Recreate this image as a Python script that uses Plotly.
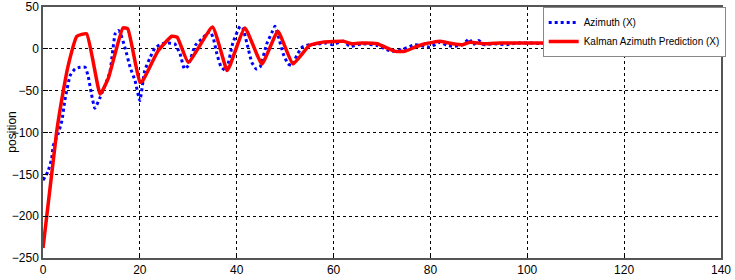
import plotly.graph_objects as go

# Measured azimuth (blue dotted)
az_t = [0, 1, 1.8, 2.1, 3.1, 3.9, 4.5, 5.6, 6.6, 7.6, 8.7, 9.3, 10, 10.7, 11.8, 13.8, 14.9, 15.5, 15.9,
        16.9, 18, 19, 20, 21, 22, 23.1, 24.6, 25.8, 27.2, 28.3, 29.2, 30, 31.4, 33, 34.5, 35.2, 35.9,
        36.8, 37.8, 39.2, 40.7, 41.3, 42.3, 43.1, 44, 44.8, 46.2, 47.3, 47.9, 48.5, 49.6, 50.6, 51.4,
        52.4, 53.5, 55.1, 57.2, 58.6, 59.7, 62, 63.4, 66, 69, 71, 72, 74.1, 76.8, 79.9, 82, 83.4,
        84.7, 86.7, 88, 88.8, 90, 91, 93, 95.8, 97.9, 100, 105, 110, 115, 120]
az_v = [-157, -147, -131, -116, -102, -86, -62, -32, -24, -22, -22, -32, -54, -71, -58, -28, 18, 22, 20,
        2, -22, -38, -62, -26, -12, 1, 6, 7, 6, -6, -24, -20, 4, 13, 21, 12, -6,
        -22, -26, 7, 27, 24, 2, -16, -24, -22, 6, 20, 27, 17, -6, -18, -20,
        -8, 2, 5, 6, 7, 5, 9, 3, 6, 4, -1, -3, -1, 5, 2, 8, 4,
        3, 5, 12, 5, 10, 5, 6, 5, 7, 7, 6, 7, 6, 7]

# Kalman prediction (red solid)
kp_t = [0, 2.8, 4.2, 5.2, 7, 9, 11.8, 13.5, 16.5, 17.5, 20, 20.6, 23.8, 26.6, 27.7, 30, 35, 38,
        38.6, 41.7, 45.2, 48.5, 51.6, 55, 57.8, 62, 63.8, 66, 69, 72.7, 74.7, 76.8, 78.9,
        82, 84.7, 86.7, 88.2, 91, 94.4, 98.5, 105, 110, 115, 120]
kp_v = [-238, -100, -50, -20, 15, 18, -54, -35, 25, 24, -40, -38, -2, 15, 14, -16, 26, -26,
        -20, 25, -18, 21, -18, 4, 8, 9, 6, 7, 6, -3, -3, 2, 6,
        9, 6, 5, 8, 6, 7, 7, 7, 7, 7, 7]

x_ticks = [0, 20, 40, 60, 80, 100, 120, 140]
y_ticks = [-250, -200, -150, -100, -50, 0, 50]

FONT = "Liberation Sans, Arial"

fig = go.Figure()
fig.add_trace(go.Scatter(x=az_t, y=az_v, mode="lines", name="Azimuth (X)",
                         line=dict(color="#0000ff", width=3, dash="dot", shape="spline", smoothing=0.4)))
fig.add_trace(go.Scatter(x=kp_t, y=kp_v, mode="lines", name="Kalman Azimuth Prediction (X)",
                         line=dict(color="#ff0000", width=3.5, shape="spline", smoothing=0.4)))

axis_common = dict(showline=True, linecolor="#555555", linewidth=1.5, mirror=True,
                   ticks="inside", ticklen=5, tickcolor="#000000",
                   showgrid=True, gridcolor="#000000", griddash="dot", gridwidth=1,
                   zeroline=False, automargin=False,
                   tickfont=dict(family=FONT, size=12, color="#000"))
fig.update_xaxes(range=[0, 140], tickvals=x_ticks, **axis_common)
fig.update_yaxes(range=[-250, 50], tickvals=y_ticks, **axis_common)

fig.add_annotation(text="position", xref="paper", yref="paper", x=-0.047, y=0.5,
                   xanchor="center", yanchor="middle", textangle=-90, showarrow=False,
                   font=dict(family=FONT, size=12, color="#000"))

fig.update_layout(
    width=735, height=280,
    margin=dict(l=43, r=14, t=7, b=22),
    paper_bgcolor="white", plot_bgcolor="white",
    legend=dict(x=0.737, y=1.0, xanchor="left", yanchor="top",
                bgcolor="white", bordercolor="#888888", borderwidth=1,
                font=dict(family=FONT, size=10, color="#000"),
                tracegroupgap=0, itemwidth=30),
    showlegend=True,
)

fig.write_html("out.html", config={"displayModeBar": False},
               post_script="document.body.style.margin='0';document.body.style.overflow='hidden';")
